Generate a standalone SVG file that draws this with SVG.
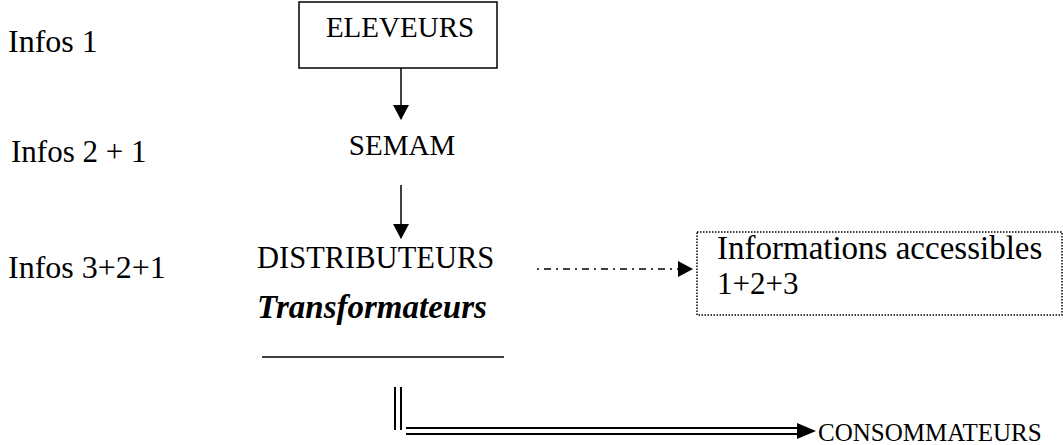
<svg xmlns="http://www.w3.org/2000/svg" width="1063" height="445" viewBox="0 0 1063 445">
<style>
text{font-family:"Liberation Serif","Times New Roman",serif;fill:#000;font-size:29px}
.lab{font-size:32px}
.bi{font-weight:bold;font-style:italic;font-size:33px}
.ln{stroke:#000;fill:none}
</style>
<defs>
<marker id="ahb" markerWidth="15" markerHeight="16" refX="14" refY="8" orient="auto" markerUnits="userSpaceOnUse" viewBox="0 0 15 16">
<path d="M0,0 L15,8 L0,16 z" fill="#000"/>
</marker>
</defs>
<rect width="1063" height="445" fill="#fff"/>
<g id="labels">
<text class="lab" x="8" y="52">Infos 1</text>
<text class="lab" x="11" y="162" style="font-size:31px">Infos 2 + 1</text>
<text class="lab" x="8" y="278">Infos 3+2+1</text>
</g>
<g id="eleveurs">
<rect x="299" y="2" width="198" height="66" class="ln" stroke-width="1.5"/>
<text x="400" y="37" text-anchor="middle">ELEVEURS</text>
</g>
<g id="semam">
<text x="402" y="155" text-anchor="middle">SEMAM</text>
</g>
<g id="distributeurs">
<text x="257" y="268" style="font-size:30.5px">DISTRIBUTEURS</text>
<text x="257" y="318" class="bi">Transformateurs</text>
<line x1="262" y1="357" x2="504" y2="357" class="ln" stroke-width="1.5"/>
</g>
<g id="informations">
<rect x="697" y="232" width="365" height="83" class="ln" stroke-width="1.5" stroke-dasharray="1.5,1.5"/>
<text x="717" y="259" style="font-size:33px">Informations accessibles</text>
<text x="717" y="294" style="font-size:31px">1+2+3</text>
</g>
<g id="consommateurs">
<text x="818" y="441" style="font-size:25px">CONSOMMATEURS</text>
</g>
<g id="connectors">
<line x1="401" y1="68" x2="401" y2="119" class="ln" stroke-width="1.5" marker-end="url(#ahb)"/>
<line x1="401" y1="185" x2="401" y2="238" class="ln" stroke-width="1.5" marker-end="url(#ahb)"/>
<line x1="537" y1="269" x2="692" y2="269" class="ln" stroke-width="1.5" stroke-dasharray="2,5,7,5" marker-end="url(#ahb)"/>
<line x1="395" y1="387" x2="395" y2="430" class="ln" stroke-width="2"/>
<line x1="401" y1="387" x2="401" y2="430" class="ln" stroke-width="2"/>
<line x1="406" y1="428" x2="800" y2="428" class="ln" stroke-width="2"/>
<line x1="406" y1="434" x2="800" y2="434" class="ln" stroke-width="2"/>
<path d="M797,423 L816,431 L797,439 z" fill="#000"/>
</g>
</svg>
